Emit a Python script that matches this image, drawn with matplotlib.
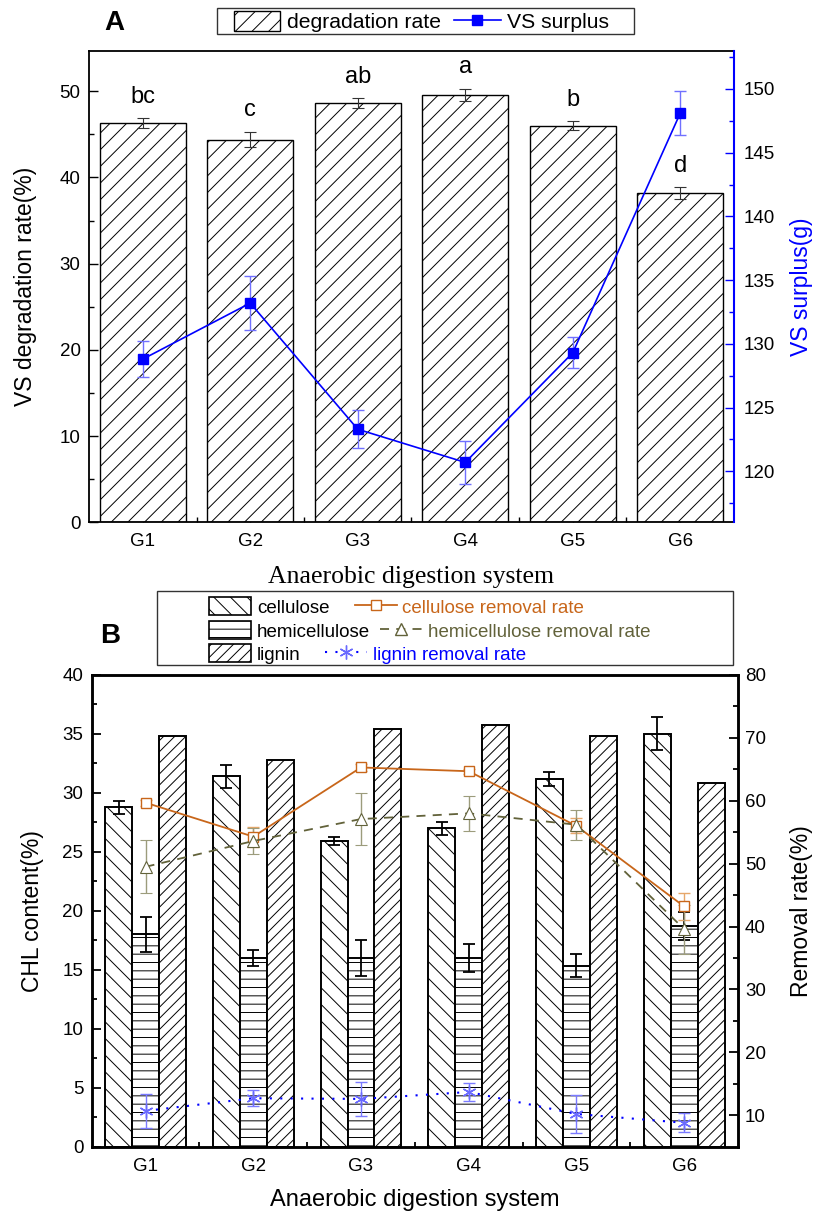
import matplotlib
matplotlib.use('Agg')
import matplotlib.pyplot as plt
from matplotlib.lines import Line2D
from matplotlib.patches import Patch, Rectangle
import numpy as np

plt.rcParams['font.family'] = ['Liberation Sans', 'DejaVu Sans']
plt.rcParams['hatch.linewidth'] = 0.7

groups = ['G1', 'G2', 'G3', 'G4', 'G5', 'G6']

# panel A: VS degradation (left) and VS surplus (right)
vs_deg = [46.3, 44.4, 48.6, 49.6, 46.0, 38.2]
vs_deg_err = [0.6, 0.9, 0.6, 0.7, 0.5, 0.7]
vs_letters = ['bc', 'c', 'ab', 'a', 'b', 'd']
vs_surplus = [128.8, 133.2, 123.3, 120.7, 129.3, 148.1]
vs_surplus_err = [1.4, 2.1, 1.5, 1.7, 1.2, 1.7]

# panel B: CHL content (left) and removal rates (right)
cellulose = [28.8, 31.4, 25.9, 27.0, 31.2, 35.0]
cellulose_err = [0.55, 1.0, 0.35, 0.55, 0.6, 1.4]
hemicellulose = [18.0, 16.0, 16.0, 16.0, 15.35, 18.7]
hemicellulose_err = [1.5, 0.65, 1.55, 1.15, 0.95, 1.2]
lignin = [34.8, 32.8, 35.4, 35.8, 34.8, 30.8]
cel_removal = [59.7, 54.3, 65.3, 64.7, 56.0, 43.2]
cel_removal_err = [0.5, 1.6, 0.5, 0.4, 1.2, 2.2]
hemi_removal = [49.5, 53.6, 57.1, 58.0, 56.2, 39.6]
hemi_removal_err = [4.2, 2.1, 4.1, 2.8, 2.4, 3.9]
lig_removal = [10.7, 12.7, 12.6, 13.7, 10.2, 8.8]
lig_removal_err = [2.7, 1.3, 2.7, 1.4, 3.0, 1.5]

ORANGE = '#c8661a'
OLIVE = '#62623a'
BLUE = '#0000ff'

W, H = 819, 1213
fig = plt.figure(figsize=(W / 100, H / 100), dpi=100)
x = np.arange(len(groups))


def tidy_ticks(ax, lw):
    ax.tick_params(which='major', direction='in', length=6.5, width=lw, labelsize=13.5)
    ax.tick_params(which='minor', direction='in', length=3.5, width=lw)


def frame_box(x0, y0, x1, y1):
    # legend frame in pixel coords of the figure (top-left origin)
    fig.add_artist(Rectangle((x0 / W, 1 - y1 / H), (x1 - x0) / W, (y1 - y0) / H,
                             transform=fig.transFigure, fill=False,
                             edgecolor='#333333', lw=1.0))


# ---------------- panel A ----------------
ax1 = fig.add_axes([89 / W, 1 - 522.3 / H, 645 / W, 471.6 / H])
ax1.bar(x, vs_deg, 0.8, yerr=vs_deg_err, color='white', edgecolor='black',
        linewidth=1.0, hatch='//', zorder=2,
        error_kw=dict(ecolor='#333333', elinewidth=0.8, capsize=4, capthick=0.8))
for xi, v, e, t in zip(x, vs_deg, vs_deg_err, vs_letters):
    ax1.text(xi, v + e + 1.2, t, ha='center', va='bottom', fontsize=17)
ax1.set_xlim(-0.5, 5.5)
ax1.set_ylim(0, 54.7)
ax1.set_yticks(range(0, 51, 10))
ax1.set_yticks(range(5, 51, 10), minor=True)
ax1.set_xticks(x, groups)
ax1.set_xticks(x[:-1] + 0.5, minor=True)
tidy_ticks(ax1, 1.0)
ax1.tick_params(axis='y', pad=6)
ax1.tick_params(axis='x', pad=8)
for s in ax1.spines.values():
    s.set_linewidth(1.3)
ax1.spines['right'].set_visible(False)

ax2 = ax1.twinx()
ax2.errorbar(x, vs_surplus, yerr=vs_surplus_err, color=BLUE, marker='s', ms=7.5,
             lw=1.2, ecolor='#7070ff', elinewidth=1.0, capsize=4, capthick=1.0, zorder=3)
ax2.set_ylim(116.0, 153.0)
ax2.set_yticks(range(120, 151, 5))
ax2.set_yticks(np.arange(117.5, 153, 5), minor=True)
tidy_ticks(ax2, 1.0)
ax2.tick_params(axis='y', which='both', color=BLUE, pad=7)
for k in ['left', 'top', 'bottom']:
    ax2.spines[k].set_visible(False)
ax2.spines['right'].set_color(BLUE)
ax2.spines['right'].set_linewidth(1.5)

ax1.set_ylabel('VS degradation rate(%)', fontsize=16.5)
ax1.yaxis.label.set_va('center')
ax1.yaxis.set_label_coords(-0.099, 0.5)
ax2.set_ylabel('VS surplus(g)', fontsize=16.5, color=BLUE)
ax2.yaxis.label.set_va('center')
ax2.yaxis.set_label_coords(1.105, 0.5)
ax1.set_xlabel('Anaerobic digestion system', fontsize=18.5, family='Liberation Serif')
ax1.xaxis.label.set_va('center')
ax1.xaxis.set_label_coords(0.5, -0.116)

frame_box(217, 8.3, 634, 34.3)
fig.legend(
    [Patch(facecolor='white', edgecolor='black', hatch='//', linewidth=1.0),
     Line2D([], [], color=BLUE, marker='s', ms=7.5, lw=1.2)],
    ['degradation rate', 'VS surplus'], ncol=2, loc='center left',
    bbox_to_anchor=(234 / W, 1 - 21.5 / H), fontsize=15.2, frameon=False,
    borderpad=0, borderaxespad=0, handlelength=2.2, handleheight=1.05,
    handletextpad=0.33, columnspacing=0.6)

fig.text(114 / W, 1 - 23 / H, 'A', fontsize=20, fontweight='bold', ha='center', va='center')

# ---------------- panel B ----------------
ax3 = fig.add_axes([91.7 / W, 1 - 1146.7 / H, 646.3 / W, 471.7 / H])
bw = 0.25
bar_err = dict(ecolor='black', elinewidth=1.3, capsize=4.5, capthick=1.3)
ax3.bar(x - bw, cellulose, bw, yerr=cellulose_err, color='white', edgecolor='black',
        linewidth=1.4, hatch='\\\\', error_kw=bar_err, zorder=2)
ax3.bar(x, hemicellulose, bw, yerr=hemicellulose_err, color='white', edgecolor='black',
        linewidth=1.4, hatch='--', error_kw=bar_err, zorder=2)
ax3.bar(x + bw, lignin, bw, color='white', edgecolor='black',
        linewidth=1.4, hatch='///', zorder=2)
ax3.set_xlim(-0.5, 5.5)
ax3.set_ylim(0, 40)
ax3.set_yticks(range(0, 41, 5))
ax3.set_yticks(np.arange(2.5, 40, 5), minor=True)
ax3.set_xticks(x, groups)
ax3.set_xticks(x[:-1] + 0.5, minor=True)
tidy_ticks(ax3, 1.3)
ax3.tick_params(axis='y', pad=6)
ax3.tick_params(axis='x', pad=8)
for s in ax3.spines.values():
    s.set_linewidth(1.8)

ax4 = ax3.twinx()
ax4.errorbar(x, cel_removal, yerr=cel_removal_err, color=ORANGE, marker='s', ms=7,
             mfc='white', mec=ORANGE, mew=1.0, lw=1.3, ecolor='#e6a76a',
             elinewidth=1.0, capsize=4, capthick=1.0, zorder=3)
ax4.errorbar(x, hemi_removal, yerr=hemi_removal_err, color=OLIVE, marker='^', ms=9,
             mfc='white', mec=OLIVE, mew=0.8, lw=1.3, ls=(0, (5, 4)), ecolor='#9c9c7c',
             elinewidth=1.0, capsize=4, capthick=1.0, zorder=3)
ax4.errorbar(x, lig_removal, yerr=lig_removal_err, color=BLUE, marker=(6, 2, 0), ms=10,
             mec='#6a6aff', mew=1.0, lw=1.5, ls=(0, (1, 4)), ecolor='#7a7aff',
             elinewidth=1.0, capsize=4, capthick=1.0, zorder=3)
ax4.set_ylim(5, 80)
ax4.set_yticks(range(10, 81, 10))
ax4.set_yticks(range(15, 80, 10), minor=True)
tidy_ticks(ax4, 1.3)
ax4.tick_params(axis='y', pad=5)
for s in ax4.spines.values():
    s.set_linewidth(1.8)

ax3.set_ylabel('CHL content(%)', fontsize=16.5)
ax3.yaxis.label.set_va('center')
ax3.yaxis.set_label_coords(-0.091, 0.5)
ax4.set_ylabel('Removal rate(%)', fontsize=16.5)
ax4.yaxis.label.set_va('center')
ax4.yaxis.set_label_coords(1.099, 0.5)
ax3.set_xlabel('Anaerobic digestion system', fontsize=17)
ax3.xaxis.label.set_va('center')
ax3.xaxis.set_label_coords(0.5, -0.113)

# legend B: one row per component, inside a shared frame
frame_box(157, 591, 733, 665)
rows = [
    (Patch(facecolor='white', edgecolor='black', hatch='\\\\', linewidth=1.2), 'cellulose',
     Line2D([], [], color=ORANGE, marker='s', ms=7, mfc='white', mec=ORANGE, lw=1.3),
     'cellulose removal rate', ORANGE, 607, 1.35),
    (Patch(facecolor='white', edgecolor='black', hatch='--', linewidth=1.2), 'hemicellulose',
     Line2D([], [], color=OLIVE, marker='^', ms=9, mfc='white', mec=OLIVE, lw=1.3, ls=(0, (5, 4))),
     'hemicellulose removal rate', OLIVE, 631, 0.55),
    (Patch(facecolor='white', edgecolor='black', hatch='///', linewidth=1.2), 'lignin',
     Line2D([], [], color=BLUE, marker=(6, 2, 0), ms=10, mec='#6a6aff', lw=1.5, ls=(0, (1, 4))),
     'lignin removal rate', BLUE, 654, 1.3),
]
for bar_h, bar_l, line_h, line_l, col, yrow, cs in rows:
    fig.legend([bar_h, line_h], [bar_l, line_l], ncol=2, loc='center left',
               bbox_to_anchor=(209 / W, 1 - yrow / H), fontsize=13.5, frameon=False,
               borderpad=0, borderaxespad=0, handlelength=2.25, handleheight=1.05,
               handletextpad=0.3, columnspacing=cs, labelcolor=['black', col])

fig.text(110 / W, 1 - 636 / H, 'B', fontsize=20, fontweight='bold', ha='center', va='center')

fig.savefig('out.png', dpi=100)
